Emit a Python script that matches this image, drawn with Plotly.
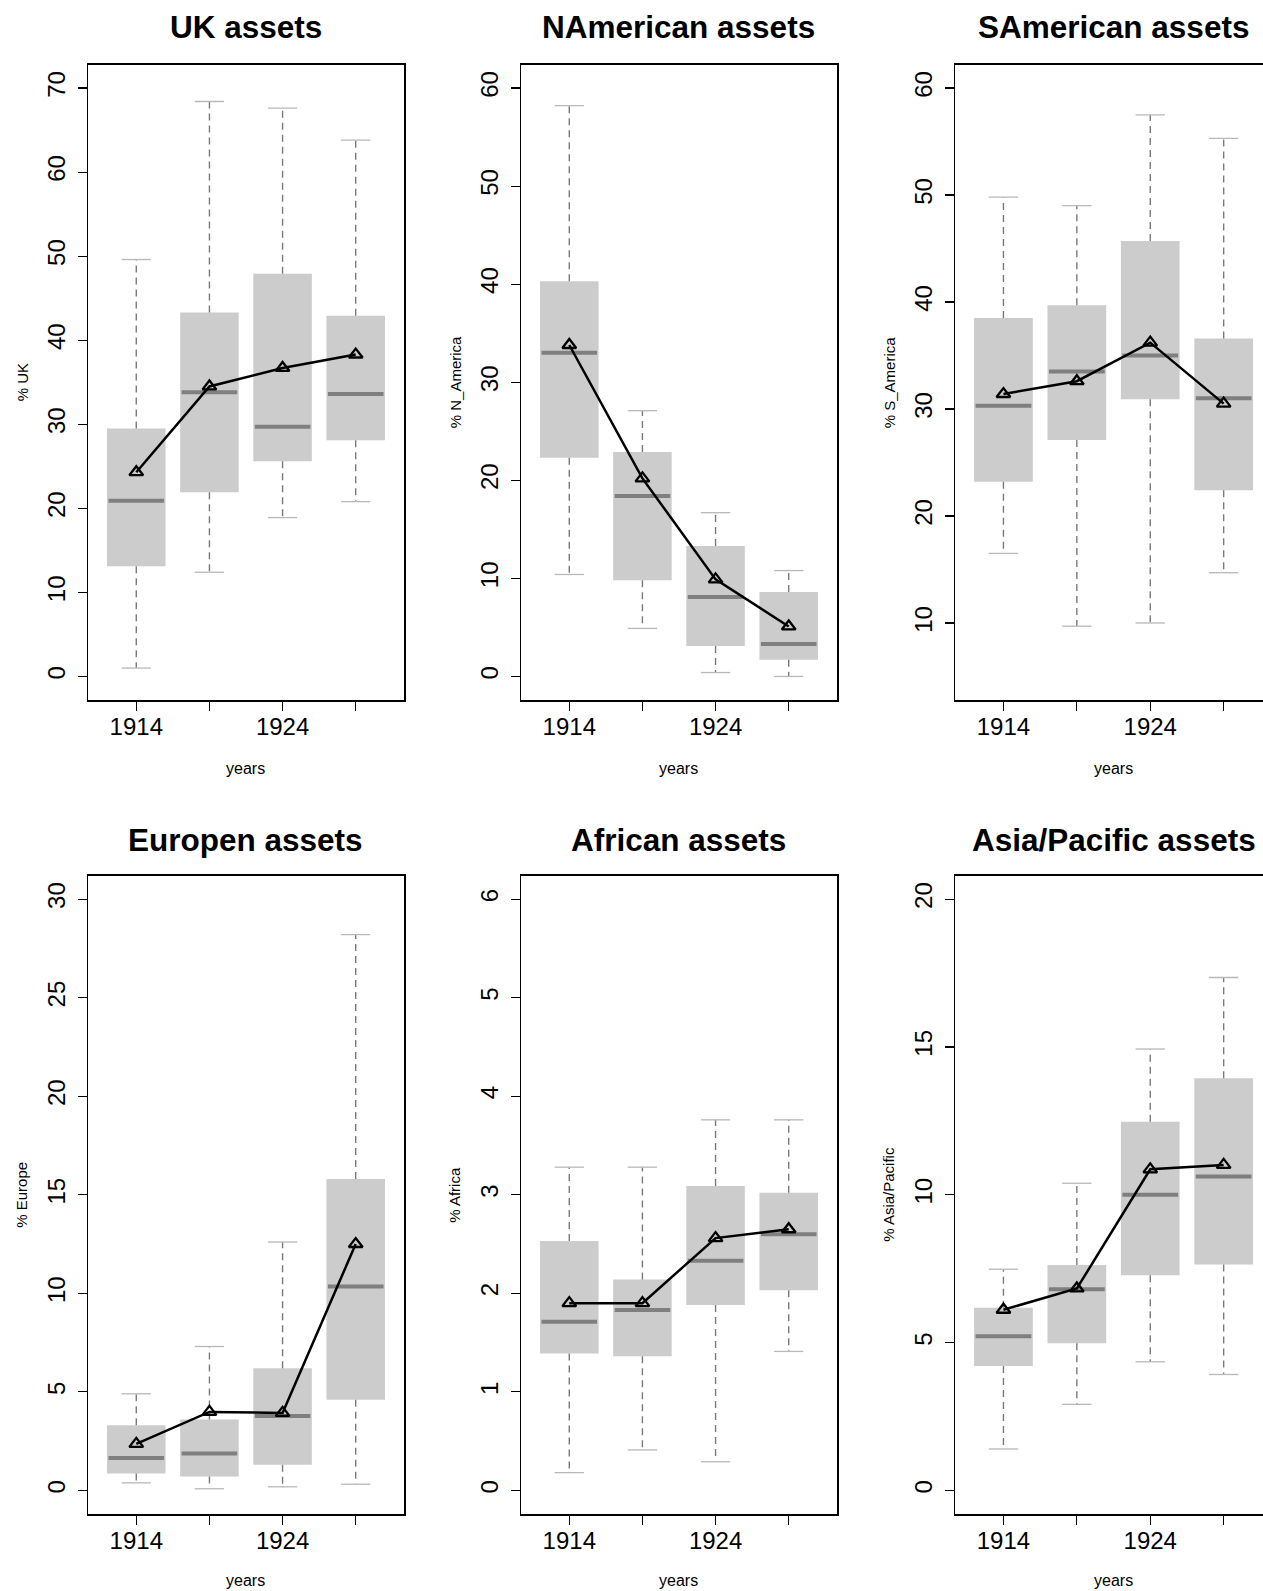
import plotly.graph_objects as go

# ---------------- data ----------------
positions = [1, 2, 3, 4]
year_labels = ["1914", "", "1924", ""]

uk_lower = [1.0, 12.4, 18.9, 20.8]
uk_q1 = [13.1, 21.9, 25.6, 28.1]
uk_median = [20.9, 33.8, 29.7, 33.6]
uk_q3 = [29.5, 43.3, 47.9, 42.9]
uk_upper = [49.6, 68.4, 67.6, 63.8]
uk_mean = [24.3, 34.5, 36.7, 38.3]

na_lower = [10.4, 4.9, 0.4, 0.0]
na_q1 = [22.3, 9.8, 3.1, 1.7]
na_median = [33.0, 18.4, 8.1, 3.3]
na_q3 = [40.3, 22.9, 13.3, 8.6]
na_upper = [58.2, 27.1, 16.7, 10.8]
na_mean = [33.8, 20.2, 9.9, 5.1]

sa_lower = [16.5, 9.7, 10.0, 14.7]
sa_q1 = [23.2, 27.1, 30.9, 22.4]
sa_median = [30.3, 33.5, 35.0, 31.0]
sa_q3 = [38.5, 39.7, 45.7, 36.6]
sa_upper = [49.8, 49.0, 57.5, 55.3]
sa_mean = [31.4, 32.6, 36.2, 30.5]

eu_lower = [0.38, 0.08, 0.18, 0.31]
eu_q1 = [0.85, 0.7, 1.3, 4.6]
eu_median = [1.64, 1.87, 3.77, 10.34]
eu_q3 = [3.3, 3.6, 6.2, 15.8]
eu_upper = [4.9, 7.3, 12.6, 28.2]
eu_mean = [2.36, 3.98, 3.93, 12.5]

af_lower = [0.18, 0.41, 0.29, 1.41]
af_q1 = [1.39, 1.36, 1.88, 2.03]
af_median = [1.71, 1.83, 2.33, 2.60]
af_q3 = [2.53, 2.14, 3.09, 3.02]
af_upper = [3.28, 3.28, 3.76, 3.76]
af_mean = [1.90, 1.90, 2.56, 2.65]

ap_lower = [1.40, 2.91, 4.35, 3.92]
ap_q1 = [4.21, 4.98, 7.28, 7.64]
ap_median = [5.21, 6.80, 10.0, 10.62]
ap_q3 = [6.18, 7.62, 12.47, 13.94]
ap_upper = [7.48, 10.39, 14.93, 17.35]
ap_mean = [6.11, 6.83, 10.86, 11.01]

titles = ["UK assets", "NAmerican assets", "SAmerican assets",
          "Europen assets", "African assets", "Asia/Pacific assets"]
ylabels = ["% UK", "% N_America", "% S_America",
           "% Europe", "% Africa", "% Asia/Pacific"]
xlabel = "years"
y_ticks = [list(range(0, 71, 10)), list(range(0, 61, 10)), list(range(10, 61, 10)),
           list(range(0, 31, 5)), list(range(0, 7, 1)), list(range(0, 21, 5))]
y_ranges = [[-2.8, 72.8], [-2.4, 62.4], [2.8, 62.2],
            [-1.2, 31.2], [-0.24, 6.24], [-0.8, 20.8]]

panels = [
    (uk_lower, uk_q1, uk_median, uk_q3, uk_upper, uk_mean),
    (na_lower, na_q1, na_median, na_q3, na_upper, na_mean),
    (sa_lower, sa_q1, sa_median, sa_q3, sa_upper, sa_mean),
    (eu_lower, eu_q1, eu_median, eu_q3, eu_upper, eu_mean),
    (af_lower, af_q1, af_median, af_q3, af_upper, af_mean),
    (ap_lower, ap_q1, ap_median, ap_q3, ap_upper, ap_mean),
]

# ---------------- layout geometry (pixels) ----------------
W, H = 1263, 1591
col_px = [(88, 404), (521, 837), (955, 1263)]
col_center_px = [245.5, 678.5, 1113.5]
row_px = [(64.5, 700), (875.5, 1514)]
title_y_px = [27, 840]
xlab_y_px = [768, 1580]
x_range_full = [0.34, 4.66]
x_range_cut = [0.34, 4.536]

FONT = "Liberation Sans, Arial, sans-serif"
BOX_FILL = "#CCCCCC"
MED_COL = "#7F7F7F"
WHISK_COL = "#7A7A7A"
CAP_COL = "#B8B8B8"


def px_x(p):
    return p / W


def px_y(p):
    return 1 - p / H


fig = go.Figure()
layout = dict(
    width=W, height=H, autosize=False,
    margin=dict(l=0, r=0, t=0, b=0),
    paper_bgcolor="white", plot_bgcolor="white",
    showlegend=False, hovermode=False,
    font=dict(family=FONT, color="black"),
    annotations=[],
)

for k in range(6):
    r, c = divmod(k, 3)
    lower, q1, med, q3, upper, mean = panels[k]
    xa = "x" if k == 0 else f"x{k+1}"
    ya = "y" if k == 0 else f"y{k+1}"

    # boxes
    fig.add_trace(go.Bar(
        x=positions, y=[b - a for a, b in zip(q1, q3)], base=q1, width=0.8,
        marker=dict(color=BOX_FILL, line=dict(width=0)),
        xaxis=xa, yaxis=ya))

    # whiskers (dashed)
    wx, wy = [], []
    for p, lo, a, b, hi in zip(positions, lower, q1, q3, upper):
        wx += [p, p, None, p, p, None]
        wy += [a, lo, None, b, hi, None]
    fig.add_trace(go.Scatter(x=wx, y=wy, mode="lines",
                             line=dict(color=WHISK_COL, width=1.4, dash="7px,5px"),
                             xaxis=xa, yaxis=ya))

    # staples
    cx, cy = [], []
    for p, lo, hi in zip(positions, lower, upper):
        cx += [p - 0.2, p + 0.2, None, p - 0.2, p + 0.2, None]
        cy += [lo, lo, None, hi, hi, None]
    fig.add_trace(go.Scatter(x=cx, y=cy, mode="lines",
                             line=dict(color=CAP_COL, width=1.3),
                             xaxis=xa, yaxis=ya))

    # medians
    mx, my = [], []
    for p, m in zip(positions, med):
        mx += [p - 0.38, p + 0.38, None]
        my += [m, m, None]
    fig.add_trace(go.Scatter(x=mx, y=my, mode="lines",
                             line=dict(color=MED_COL, width=4),
                             xaxis=xa, yaxis=ya))

    # means
    fig.add_trace(go.Scatter(x=positions, y=mean, mode="lines+markers",
                             line=dict(color="black", width=2.5),
                             marker=dict(symbol="triangle-up-open", size=12,
                                         color="black", line=dict(width=2.3, color="black")),
                             xaxis=xa, yaxis=ya))

    x0, x1 = col_px[c]
    ytop, ybot = row_px[r]
    cut = (c == 2)
    xkey = "xaxis" if k == 0 else f"xaxis{k+1}"
    ykey = "yaxis" if k == 0 else f"yaxis{k+1}"
    layout[xkey] = dict(
        domain=[px_x(x0), px_x(x1)], anchor=ya,
        range=x_range_cut if cut else x_range_full,
        tickmode="array", tickvals=positions, ticktext=year_labels,
        ticks="outside", ticklen=9, tickwidth=1.2, tickcolor="black",
        ticklabelstandoff=-4,
        showline=True, linecolor="black", linewidth=1.5, mirror=True,
        showgrid=False, zeroline=False, automargin=False,
        tickfont=dict(size=24, family=FONT, color="black"),
        fixedrange=True,
    )
    layout[ykey] = dict(
        domain=[px_y(ybot), px_y(ytop)], anchor=xa,
        range=y_ranges[k],
        tickmode="array", tickvals=y_ticks[k], ticktext=[str(v) for v in y_ticks[k]],
        ticks="outside", ticklen=9, tickwidth=1.2, tickcolor="black",
        tickangle=-90, ticklabelstandoff=3,
        showline=True, linecolor="black", linewidth=1.5, mirror=(not cut),
        showgrid=False, zeroline=False, automargin=False,
        tickfont=dict(size=24, family=FONT, color="black"),
        fixedrange=True,
    )

    # title
    layout["annotations"].append(dict(
        text=f"<b>{titles[k]}</b>", x=px_x(col_center_px[c]), y=px_y(title_y_px[r]),
        xref="paper", yref="paper", xanchor="center", yanchor="middle",
        showarrow=False, font=dict(size=31.5, family=FONT, color="black")))
    # x label
    layout["annotations"].append(dict(
        text=xlabel, x=px_x(col_center_px[c] if not cut else (x0 + 317 / 2)),
        y=px_y(xlab_y_px[r]),
        xref="paper", yref="paper", xanchor="center", yanchor="middle",
        showarrow=False, font=dict(size=16, family=FONT, color="black")))
    # y label
    layout["annotations"].append(dict(
        text=ylabels[k], x=px_x(x0 - 66), y=px_y((ytop + ybot) / 2),
        xref="paper", yref="paper", xanchor="center", yanchor="middle",
        textangle=-90, showarrow=False,
        font=dict(size=15, family=FONT, color="black")))

fig.update_layout(**layout)
fig.write_html(
    "out.html",
    config={"displayModeBar": False, "staticPlot": True},
    post_script="document.body.style.margin='0px';document.body.style.padding='0px';"
                "document.documentElement.style.overflow='hidden';",
)
